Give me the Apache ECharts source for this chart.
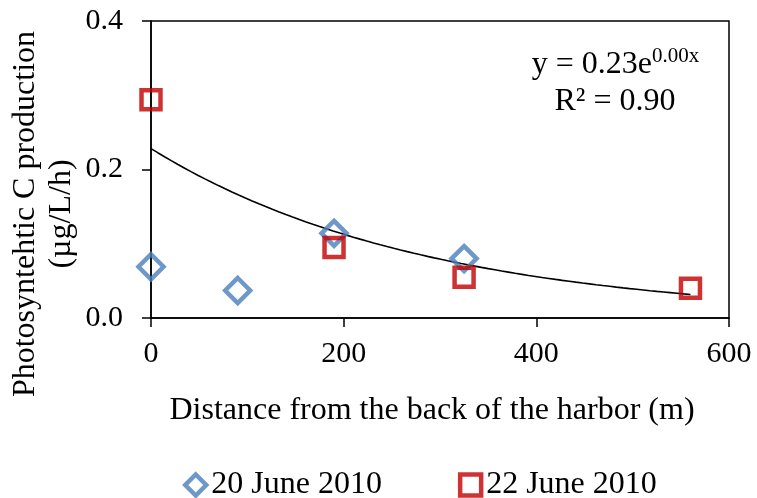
<!DOCTYPE html>
<html>
<head>
<meta charset="utf-8">
<script src="https://cdn.jsdelivr.net/npm/echarts@6/dist/echarts.min.js"></script>
<style>
  html, body { margin: 0; padding: 0; background: #fff; }
  #chart { width: 757px; height: 498px; }
</style>
</head>
<body>
<div id="chart"></div>
<script>
// Photosynthetic carbon production vs. distance from the back of the harbor
const june20X = [0, 90, 190, 325];
const june20Y = [0.069, 0.037, 0.114, 0.080];
const june22X = [0, 190, 325, 560];
const june22Y = [0.294, 0.095, 0.055, 0.040];
const xTicks = [0, 200, 400, 600];
const yTicks = [0.0, 0.2, 0.4];
const seriesNames = ['20 June 2010', '22 June 2010'];
const xTitle = 'Distance from the back of the harbor (m)';
const yTitleLines = ['Photosyntehtic C production', '(µg/L/h)'];
const equationMain = 'y = 0.23e';
const equationExp = '0.00x';
const rSquaredText = 'R² = 0.90';

const FONT = '"Liberation Serif", "Times New Roman", serif';

// Exponential trendline (least squares on ln y) for the 22 June series
function expFit(xs, ys) {
  const n = xs.length;
  const ly = ys.map(v => Math.log(v));
  const mx = xs.reduce((a, b) => a + b, 0) / n;
  const my = ly.reduce((a, b) => a + b, 0) / n;
  let sxy = 0, sxx = 0;
  for (let i = 0; i < n; i++) {
    sxy += (xs[i] - mx) * (ly[i] - my);
    sxx += (xs[i] - mx) * (xs[i] - mx);
  }
  const b = sxy / sxx;
  const a = Math.exp(my - b * mx);
  return { a, b };
}
const fit = expFit(june22X, june22Y);
const xMaxFit = Math.max(...june22X);
const trend = [];
for (let i = 0; i <= 80; i++) {
  const x = xMaxFit * i / 80;
  trend.push([x, fit.a * Math.exp(fit.b * x)]);
}

const pts20 = june20X.map((x, i) => [x, june20Y[i]]);
const pts22 = june22X.map((x, i) => [x, june22Y[i]]);

const BLUE = '#4A7EBB';
const RED = '#C00000';

const chart = echarts.init(document.getElementById('chart'), null, { renderer: 'canvas' });
chart.setOption({
  backgroundColor: '#ffffff',
  animation: false,
  textStyle: { fontFamily: FONT },
  grid: { left: 151, right: 28, top: 21, bottom: 180, containLabel: false,
          show: true, borderColor: '#000', borderWidth: 1.5, backgroundColor: 'transparent' },
  xAxis: {
    type: 'value', min: xTicks[0], max: xTicks[xTicks.length - 1], interval: 200,
    axisLine: { show: true, onZero: false, lineStyle: { color: '#000', width: 1.5 } },
    axisTick: { show: true, length: 9, lineStyle: { color: '#000', width: 1.5 } },
    splitLine: { show: false },
    axisLabel: { color: '#000', fontSize: 30, fontFamily: FONT, margin: 21 }
  },
  yAxis: {
    type: 'value', min: yTicks[0], max: yTicks[yTicks.length - 1], interval: 0.2,
    axisLine: { show: true, onZero: false, lineStyle: { color: '#000', width: 1.5 } },
    axisTick: { show: true, length: 9, lineStyle: { color: '#000', width: 1.5 } },
    splitLine: { show: false },
    axisLabel: { color: '#000', fontSize: 30, fontFamily: FONT, margin: 28,
                 formatter: v => v.toFixed(1) }
  },
  legend: {
    left: 178, top: 464, itemGap: 76, itemWidth: 21, itemHeight: 21,
    textStyle: { color: '#000', fontSize: 32, fontFamily: FONT },
    data: [
      { name: seriesNames[0], itemStyle: { color: 'rgba(0,0,0,0)', borderColor: BLUE, borderWidth: 4.5 } },
      { name: seriesNames[1], itemStyle: { color: 'rgba(0,0,0,0)', borderColor: RED, borderWidth: 4.5 } }
    ]
  },
  graphic: [
    { type: 'text', x: 432, y: 411,
      style: { text: xTitle, font: '32px ' + FONT, fill: '#000',
               textAlign: 'center', textVerticalAlign: 'middle' } },
    { type: 'text', rotation: Math.PI / 2, x: 26, y: 214,
      style: { text: yTitleLines[0], font: '32px ' + FONT, fill: '#000',
               textAlign: 'center', textVerticalAlign: 'middle' } },
    { type: 'text', rotation: Math.PI / 2, x: 62, y: 214,
      style: { text: yTitleLines[1], font: '32px ' + FONT, fill: '#000',
               textAlign: 'center', textVerticalAlign: 'middle' } },
    { type: 'text', x: 652, y: 65,
      style: { text: equationMain, font: '32px ' + FONT, fill: '#000',
               textAlign: 'right', textVerticalAlign: 'middle' } },
    { type: 'text', x: 652, y: 56,
      style: { text: equationExp, font: '21px ' + FONT, fill: '#000',
               textAlign: 'left', textVerticalAlign: 'middle' } },
    { type: 'text', x: 615, y: 102,
      style: { text: rSquaredText, font: '32px ' + FONT, fill: '#000',
               textAlign: 'center', textVerticalAlign: 'middle' } }
  ],
  series: [
    {
      name: 'trend', type: 'line', data: trend, showSymbol: false, symbol: 'none',
      smooth: false, lineStyle: { color: '#000', width: 1.6 }, silent: true, z: 1
    },
    {
      name: seriesNames[0], type: 'scatter', data: pts20, symbol: 'diamond', symbolSize: 25,
      itemStyle: { color: 'rgba(0,0,0,0)', borderColor: BLUE, borderWidth: 4.5 }, z: 3
    },
    {
      name: seriesNames[1], type: 'scatter', data: pts22, symbol: 'rect', symbolSize: 19,
      itemStyle: { color: 'rgba(0,0,0,0)', borderColor: RED, borderWidth: 4.5 }, z: 4
    }
  ]
});
</script>
</body>
</html>
